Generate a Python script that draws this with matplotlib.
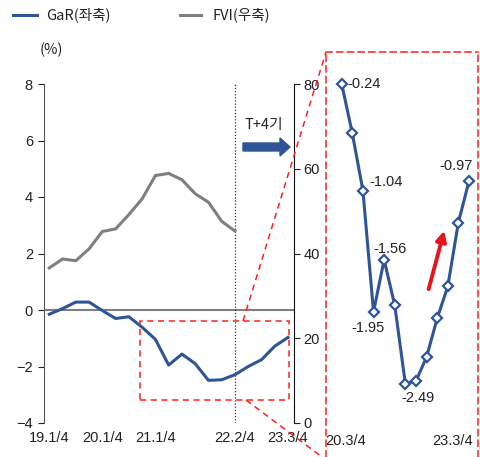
import matplotlib
matplotlib.use("Agg")
import matplotlib.pyplot as plt
from matplotlib.lines import Line2D
from matplotlib.patches import Rectangle, FancyArrow

plt.rcParams["font.family"] = ["Liberation Sans", "Noto Sans CJK KR", "DejaVu Sans"]
plt.rcParams["font.size"] = 10

# quarterly series, 19.1/4 .. 23.3/4
QUARTERS = list(range(19))
GAR = [-0.15, 0.05, 0.28, 0.28, -0.02, -0.30, -0.24, -0.61, -1.04, -1.95, -1.56,
       -1.90, -2.49, -2.47, -2.29, -2.00, -1.76, -1.28, -0.97]
FVI = [36.6, 38.7, 38.3, 41.1, 45.2, 45.8, 49.2, 52.9, 58.4, 58.9, 57.4, 54.1,
       52.1, 47.6, 45.3]
XTICK_POS = [0, 4, 8, 14, 18]
XTICK_LABELS = ["19.1/4", "20.1/4", "21.1/4", "22.2/4", "23.3/4"]

# zoomed window 20.3/4 .. 23.3/4
ZOOM_START = 6
ZOOM_LABELS = {6: "-0.24", 8: "-1.04", 9: "-1.95", 10: "-1.56", 12: "-2.49", 18: "-0.97"}
ZOOM_OFFSETS = {6: (4, 0, "left"), 8: (5, 6, "left"), 9: (-4, -12, "center"),
                10: (4, 8, "center"), 12: (9, -10, "center"), 18: (-9, 11, "center")}

BLUE = "#2F5597"
GRAY = "#7F7F7F"
RED = "#FF1F1F"
TXT = "#222222"
FS = 10.5
KR = ["Noto Sans CJK KR", "DejaVu Sans"]

W, H = 481, 457
fig = plt.figure(figsize=(W / 100, H / 100), dpi=100)


def fx(px):
    return px / W


def fy(py):
    return 1 - py / H


ax = fig.add_axes([fx(44), fy(423), fx(294) - fx(44), fy(84) - fy(423)])
ax2 = ax.twinx()

ax.plot(QUARTERS, GAR, color=BLUE, lw=2.2, zorder=3)
ax.axhline(0, color=GRAY, lw=1.5, zorder=2)
ax.axvline(14, color="#333333", lw=0.9, ls=(0, (1, 1.5)), zorder=2)
ax2.plot(QUARTERS[:len(FVI)], FVI, color=GRAY, lw=2.2)

ax.set_xlim(-0.4, 18.45)
ax.set_ylim(-4, 8)
ax.set_yticks(range(-4, 9, 2))
ax2.set_ylim(0, 80)
ax2.set_yticks(range(0, 81, 20))
ax.set_xticks(XTICK_POS)
ax.set_xticklabels(XTICK_LABELS)
ax.tick_params(axis="x", length=0, pad=6, labelsize=FS, colors=TXT)
ax.tick_params(axis="y", direction="out", length=4, pad=4, labelsize=FS, colors=TXT)
ax2.tick_params(axis="y", direction="out", length=4, pad=3, labelsize=FS, colors=TXT)

for a in (ax, ax2):
    for s in ("top", "bottom"):
        a.spines[s].set_visible(False)
ax2.spines["left"].set_visible(False)
ax.spines["right"].set_visible(False)
ax.spines["left"].set_color("#555555")
ax2.spines["right"].set_color("#111111")

# highlighted window on the main chart
ax.add_patch(Rectangle((6.85, -3.2), 11.2, 2.8, fill=False, ec=RED, lw=1.1,
                       ls=(0, (4, 3)), zorder=4))

# zoomed panel
axz = fig.add_axes([fx(326), 0.0, fx(478) - fx(326), fy(52)])
axz.set_facecolor("none")
zx = QUARTERS[ZOOM_START:]
zy = GAR[ZOOM_START:]
axz.plot(zx, zy, color=BLUE, lw=2.2, marker="D", ms=5, mfc="white", mec=BLUE, mew=1.6)
axz.set_xlim(4.52, 18.85)
axz.set_ylim(-3.04, 0.0)
axz.set_xticks([])
axz.set_yticks([])
for s in ("left", "top", "right"):
    axz.spines[s].set_color(RED)
    axz.spines[s].set_linestyle((0, (4, 3)))
    axz.spines[s].set_linewidth(1.1)
axz.spines["bottom"].set_visible(False)

for i, lab in ZOOM_LABELS.items():
    dx, dy, ha = ZOOM_OFFSETS[i]
    axz.annotate(lab, (i, GAR[i]), xytext=(dx, dy), textcoords="offset points",
                 ha=ha, va="center", fontsize=FS, color=TXT)

axz.text(0.13, 0.0385, "20.3/4", transform=axz.transAxes, ha="center", va="center",
         fontsize=FS, color=TXT)
axz.text(0.83, 0.0385, "23.3/4", transform=axz.transAxes, ha="center", va="center",
         fontsize=FS, color=TXT)
axz.annotate("", xy=(15.74, -1.32), xytext=(14.13, -1.80),
             arrowprops=dict(arrowstyle="-|>,head_length=0.6,head_width=0.3",
                             color="#E8141C", lw=2.8))

# connector lines between the window and the zoomed panel
fig.add_artist(Line2D([fx(243), fx(326)], [fy(321), fy(52)], color=RED, lw=1.1,
                      ls=(0, (4, 3))))
fig.add_artist(Line2D([fx(246), fx(330)], [fy(400), fy(463)], color=RED, lw=1.1,
                      ls=(0, (4, 3))))

# T+4 arrow
fig.text(fx(264), fy(125), "T+4기", ha="center", va="center", fontsize=FS, color=TXT,
         family=KR)
fig.add_artist(FancyArrow(fx(243), fy(147), fx(290) - fx(243) - fx(10), 0,
                          width=8 / H, head_width=18 / H, head_length=fx(10),
                          length_includes_head=False, color=BLUE, transform=fig.transFigure))

# legend
fig.add_artist(Line2D([fx(13), fx(37)], [fy(15), fy(15)], color=BLUE, lw=2.2))
fig.text(fx(46), fy(15), "GaR(좌축)", va="center", fontsize=FS, color=TXT, family=KR)
fig.add_artist(Line2D([fx(180), fx(201)], [fy(15), fy(15)], color=GRAY, lw=2.2))
fig.text(fx(212), fy(15), "FVI(우축)", va="center", fontsize=FS, color=TXT, family=KR)
fig.text(fx(40), fy(50), "(%)", va="center", fontsize=FS, color=TXT, family=KR)

fig.savefig("out.png", dpi=100)
